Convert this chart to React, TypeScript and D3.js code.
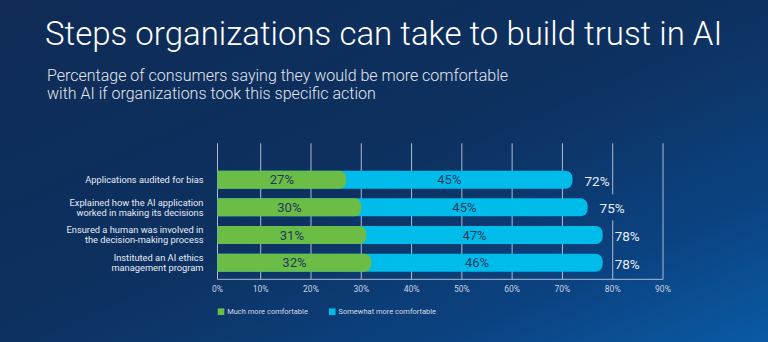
import React from "react";
import * as d3 from "d3";

const categories = [
  ["Applications audited for bias"],
  ["Explained how the AI application", "worked in making its decisions"],
  ["Ensured a human was involved in", "the decision-making process"],
  ["Instituted an AI ethics", "management program"],
];
const muchMore = [27, 30, 31, 32];
const somewhatMore = [45, 45, 47, 46];
const totals = [72, 75, 78, 78];
const tickValues = [0, 10, 20, 30, 40, 50, 60, 70, 80, 90];
const legendLabels = ["Much more comfortable", "Somewhat more comfortable"];
const title = "Steps organizations can take to build trust in AI";
const subtitleLines = [
  "Percentage of consumers saying they would be more comfortable",
  "with AI if organizations took this specific action",
];

const W = 768;
const H = 342;
const GREEN = "#6cbd45";
const BLUE = "#00bceb";
const FONT = "Roboto, 'Liberation Sans', sans-serif";

function rightRounded(x0: number, x1: number, yTop: number, h: number, r: number) {
  const rr = Math.min(r, (x1 - x0) / 2, h / 2);
  const p = d3.path();
  p.moveTo(x0, yTop);
  p.lineTo(x1 - rr, yTop);
  p.arcTo(x1, yTop, x1, yTop + rr, rr);
  p.lineTo(x1, yTop + h - rr);
  p.arcTo(x1, yTop + h, x1 - rr, yTop + h, rr);
  p.lineTo(x0, yTop + h);
  p.closePath();
  return p.toString();
}

export default function App() {
  const x = d3.scaleLinear().domain([0, 10, 90]).range([217.5, 260.7, 663]);
  const idx = categories.map((_, i) => i);
  const y = d3.scalePoint<number>().domain(idx).range([179.7, 262.7]);
  const barH = 18;
  const gridTop = 143.3;
  const gridBottom = 279.3;
  const totalFont = 13.5;
  const totalGap = 12;

  const labelBoxes = totals.map((t, i) => {
    const lx = x(t) + totalGap;
    const w = totalFont * 1.85;
    return { x: lx, y: (y(i) as number) - 13, w: w, h: 26 };
  });

  return (
    <svg
      width={W}
      height={H}
      style={{ position: "absolute", left: 0, top: 0 }}
      fontFamily={FONT}
    >
      <defs>
        <linearGradient id="bg" x1="0" y1="0" x2="1" y2="1" gradientUnits="objectBoundingBox">
          <stop offset="0%" stopColor="#0f2b56" />
          <stop offset="50%" stopColor="#0d3160" />
          <stop offset="78%" stopColor="#0b4280" />
          <stop offset="100%" stopColor="#0a5aa5" />
        </linearGradient>
        <mask id="gridMask" maskUnits="userSpaceOnUse" x="0" y="0" width={W} height={H}>
          <rect x={0} y={0} width={W} height={H} fill="white" />
          {labelBoxes.map((b, i) => (
            <rect key={i} x={b.x} y={b.y} width={b.w} height={b.h} fill="black" />
          ))}
        </mask>
      </defs>
      <rect x={0} y={0} width={W} height={H} fill="url(#bg)" />

      <text x={45} y={45} fill="#ffffff" fontSize={33} fontWeight={300}>
        {title}
      </text>
      {subtitleLines.map((l, i) => (
        <text key={i} x={47} y={81 + i * 18} fill="#e3e8f0" fontSize={16} fontWeight={300}>
          {l}
        </text>
      ))}

      <g mask="url(#gridMask)" stroke="#aebbd2" strokeWidth={1}>
        {tickValues.map((t) => (
          <line key={t} x1={x(t)} x2={x(t)} y1={gridTop} y2={gridBottom} />
        ))}
        <line x1={x(0)} x2={x(90)} y1={gridBottom} y2={gridBottom} />
      </g>

      {tickValues.map((t) => (
        <text
          key={t}
          x={x(t)}
          y={289.3}
          dy="0.35em"
          textAnchor="middle"
          fill="#c9d3e4"
          fontSize={8.5}
        >
          {t}%
        </text>
      ))}

      {idx.map((i) => {
        const cy = y(i) as number;
        const top = cy - barH / 2;
        const gEnd = x(muchMore[i]);
        const tEnd = x(totals[i]);
        return (
          <g key={i}>
            <path d={rightRounded(x(0), tEnd, top, barH, 7)} fill={BLUE} />
            <path d={rightRounded(x(0), gEnd, top, barH, 7)} fill={GREEN} />
            <text
              x={(x(0) + gEnd) / 2}
              y={cy}
              dy="0.36em"
              textAnchor="middle"
              fill="#1d3a5c"
              fontSize={13}
            >
              {muchMore[i]}%
            </text>
            <text
              x={(gEnd + tEnd) / 2 - 10}
              y={cy}
              dy="0.36em"
              textAnchor="middle"
              fill="#1d3a5c"
              fontSize={13}
            >
              {somewhatMore[i]}%
            </text>
            <text
              x={tEnd + totalGap}
              y={cy + 1}
              dy="0.36em"
              fill="#e8eef6"
              fontSize={totalFont}
            >
              {totals[i]}%
            </text>
            {categories[i].map((line, j) => (
              <text
                key={j}
                x={203.5}
                y={cy + (j - (categories[i].length - 1) / 2) * 10}
                dy="0.35em"
                textAnchor="end"
                fill="#e6ecf5"
                fontSize={9.3}
              >
                {line}
              </text>
            ))}
          </g>
        );
      })}

      {legendLabels.map((l, i) => {
        const lx = [217.7, 329][i];
        return (
          <g key={l}>
            <rect x={lx} y={308.4} width={6.6} height={6.6} fill={[GREEN, BLUE][i]} />
            <text x={lx + 9.5} y={311.7} dy="0.35em" fill="#d5dcea" fontSize={7.5}>
              {l}
            </text>
          </g>
        );
      })}
    </svg>
  );
}
